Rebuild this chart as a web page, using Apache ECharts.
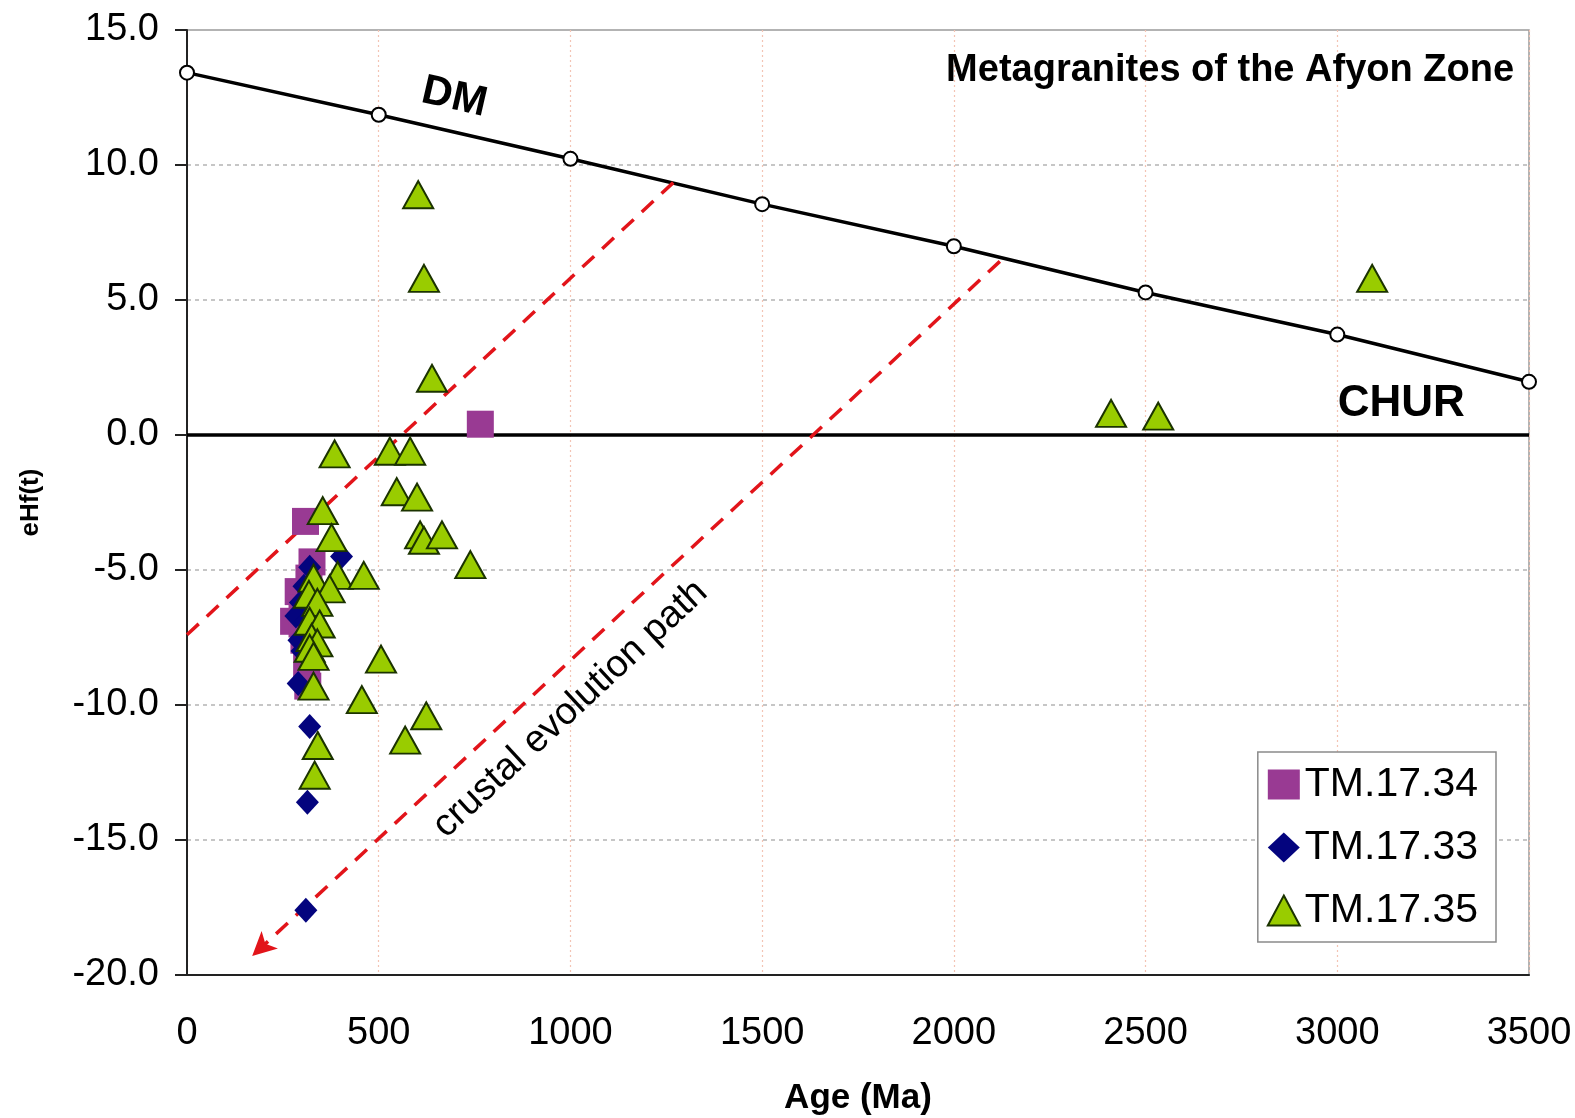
<!DOCTYPE html>
<html>
<head>
<meta charset="utf-8">
<script src="https://cdn.jsdelivr.net/npm/echarts@6/dist/echarts.min.js"></script>
<style>
  html, body { margin: 0; padding: 0; background: #ffffff; }
  #chart { width: 1575px; height: 1118px; }
</style>
</head>
<body>
<div id="chart"></div>
<script>
// Age ticks and eHf ticks
const ageTicks = [0, 500, 1000, 1500, 2000, 2500, 3000, 3500];
const ehfTicks = [-20, -15, -10, -5, 0, 5, 10, 15];

// Depleted mantle evolution (DM) and chondritic reservoir (CHUR)
const dmAge = [0, 500, 1000, 1500, 2000, 2500, 3000, 3500];
const dmEhf = [13.42, 11.86, 10.23, 8.55, 6.99, 5.28, 3.72, 1.97];
const churAge = [0, 3500];
const churEhf = [0, 0];

// Zircon analyses [age Ma, eHf(t)]
const tm1734 = [
  [765, 0.4], [309, -3.2], [326, -4.7], [318, -5.3], [290, -5.8], [300, -6.4],
  [278, -6.9], [300, -7.0], [305, -7.6], [318, -8.1], [312, -8.6], [315, -9.3]
];
const tm1733 = [
  [403, -4.5], [320, -4.9], [305, -5.6], [296, -6.2], [284, -6.7], [310, -6.9],
  [292, -7.6], [300, -8.0], [290, -9.2], [320, -10.8], [314, -13.6], [310, -17.6]
];
const tm1735 = [
  [603, 8.9], [618, 5.8], [639, 2.1], [3091, 5.8], [2410, 0.8], [2533, 0.7],
  [385, -0.7], [529, -0.6], [582, -0.6], [547, -2.1], [600, -2.3], [354, -2.8],
  [377, -3.8], [608, -3.7], [618, -3.9], [665, -3.7], [739, -4.8], [393, -5.2],
  [461, -5.2], [330, -5.3], [372, -5.7], [318, -5.9], [340, -6.2], [320, -6.9],
  [346, -7.0], [325, -7.5], [340, -7.7], [320, -7.9], [330, -8.2], [506, -8.3],
  [330, -9.3], [456, -9.8], [624, -10.4], [569, -11.3], [341, -11.5], [333, -12.6]
];

// Crustal evolution guide lines (parallel, dashed red)
const guideUpper = [[0, -7.4], [1276, 9.45]];
const guideLower = [[2120, 6.43], [170, -19.3]];

// Annotation anchors in data space
const dmLabelAt = [697, 12.5];
const churLabelAt = [3167, 1.15];
const pathLabelAt = [1000, -10.15];
const titleAt = [3461, 13.5];

const FONT = '"Liberation Sans", Arial, sans-serif';

const chart = echarts.init(document.getElementById('chart'), null, { renderer: 'canvas' });

const option = {
  backgroundColor: '#ffffff',
  animation: false,
  grid: {
    left: 187, right: 46, top: 30, bottom: 143,
    containLabel: false, outerBoundsMode: 'none',
    show: true, borderColor: '#9a9a9a', borderWidth: 1.5, backgroundColor: 'transparent'
  },
  legend: {
    orient: 'vertical',
    right: 79, top: 752,
    padding: [12, 18, 11, 9],
    itemGap: 22,
    itemWidth: 32, itemHeight: 30,
    itemTextGap: 6,
    borderColor: '#8a8a8a', borderWidth: 1.5,
    backgroundColor: '#ffffff',
    textStyle: { fontFamily: FONT, fontSize: 41, color: '#000' },
    data: ['TM.17.34', 'TM.17.33', 'TM.17.35']
  },
  xAxis: {
    type: 'value', min: 0, max: 3500, interval: 500,
    name: 'Age (Ma)', nameLocation: 'middle', nameGap: 106,
    nameTextStyle: { fontFamily: FONT, fontSize: 35, fontWeight: 'bold', color: '#000' },
    axisLine: { show: true, onZero: false, lineStyle: { color: '#222', width: 2 } },
    axisTick: { show: false },
    axisLabel: {
      fontFamily: FONT, fontSize: 38, color: '#000', margin: 40,
      formatter: v => String(v)
    },
    splitLine: { show: true, lineStyle: { color: '#f3c4b4', type: [2, 3], width: 1.2 } }
  },
  yAxis: {
    type: 'value', min: -20, max: 15, interval: 5,
    name: 'eHf(t)', nameLocation: 'middle', nameGap: 143, nameRotate: 90,
    nameTextStyle: { fontFamily: FONT, fontSize: 26, fontWeight: 'bold', color: '#000' },
    axisLine: { show: true, onZero: false, lineStyle: { color: '#222', width: 2 } },
    axisTick: { show: true, length: 12, lineStyle: { color: '#222', width: 2 } },
    axisLabel: {
      fontFamily: FONT, fontSize: 38, color: '#000', margin: 28,
      formatter: v => v.toFixed(1)
    },
    splitLine: { show: true, lineStyle: { color: '#b4b4b4', type: [4, 4], width: 1.5 } }
  },
  series: [
    {
      name: 'CHUR', type: 'line', symbol: 'none', silent: true, z: 2,
      data: churAge.map((a, i) => [a, churEhf[i]]),
      lineStyle: { color: '#000', width: 3.5 }
    },
    {
      name: 'DM', type: 'line', z: 3, silent: true,
      data: dmAge.map((a, i) => [a, dmEhf[i]]),
      symbol: 'circle', symbolSize: 14, showAllSymbol: true,
      itemStyle: { color: '#ffffff', borderColor: '#000', borderWidth: 2 },
      lineStyle: { color: '#000', width: 3.5 }
    },
    {
      name: 'guide-upper', type: 'line', symbol: 'none', silent: true, z: 4,
      data: guideUpper,
      lineStyle: { color: '#e2141a', width: 3.5, type: [16, 11] }
    },
    {
      name: 'guide-lower', type: 'line', symbol: 'none', silent: true, z: 4,
      data: [],
      markLine: {
        silent: true, animation: false,
        symbol: ['none', 'arrow'], symbolSize: [18, 24],
        label: { show: false },
        lineStyle: { color: '#e2141a', width: 3.5, type: [16, 11] },
        data: [[{ coord: guideLower[0] }, { coord: guideLower[1] }]]
      }
    },
    {
      name: 'TM.17.34', type: 'scatter', z: 5,
      symbol: 'rect', symbolSize: 27,
      itemStyle: { color: '#993a93', opacity: 1 },
      data: tm1734
    },
    {
      name: 'TM.17.33', type: 'scatter', z: 6,
      symbol: 'diamond', symbolSize: [23, 25],
      itemStyle: { color: '#04047e', opacity: 1 },
      data: tm1733
    },
    {
      name: 'TM.17.35', type: 'scatter', z: 7,
      symbol: 'triangle', symbolSize: [30, 27],
      itemStyle: { color: '#99cc00', borderColor: '#1b3300', borderWidth: 2, opacity: 1 },
      data: tm1735
    }
  ]
};

chart.setOption(option);

// Text annotations positioned from data coordinates
const px = p => chart.convertToPixel({ gridIndex: 0 }, p);
const dmP = px(dmLabelAt), churP = px(churLabelAt), pathP = px(pathLabelAt), titleP = px(titleAt);
const pathAngle = Math.atan2(
  px(guideLower[0])[1] - px(guideLower[1])[1],
  px(guideLower[0])[0] - px(guideLower[1])[0]
);
const dmAngle = Math.atan2(
  px([3500, dmEhf[7]])[1] - px([0, dmEhf[0]])[1],
  px([3500, dmEhf[7]])[0] - px([0, dmEhf[0]])[0]
);

chart.setOption({
  graphic: [
    {
      type: 'text', x: dmP[0], y: dmP[1], rotation: -dmAngle, z: 20,
      style: { text: 'DM', fontFamily: FONT, fontSize: 42, fontWeight: 'bold',
               fill: '#000', align: 'center', verticalAlign: 'middle' }
    },
    {
      type: 'text', x: churP[0], y: churP[1], z: 20,
      style: { text: 'CHUR', fontFamily: FONT, fontSize: 44, fontWeight: 'bold',
               fill: '#000', align: 'center', verticalAlign: 'middle' }
    },
    {
      type: 'text', x: titleP[0], y: titleP[1], z: 20,
      style: { text: 'Metagranites of the Afyon Zone', fontFamily: FONT, fontSize: 38,
               fontWeight: 'bold', fill: '#000', align: 'right', verticalAlign: 'middle' }
    },
    {
      type: 'text', x: pathP[0], y: pathP[1], rotation: -pathAngle, z: 20,
      style: { text: 'crustal evolution path', fontFamily: FONT, fontSize: 38,
               fill: '#000', align: 'center', verticalAlign: 'middle' }
    }
  ]
});
</script>
</body>
</html>
